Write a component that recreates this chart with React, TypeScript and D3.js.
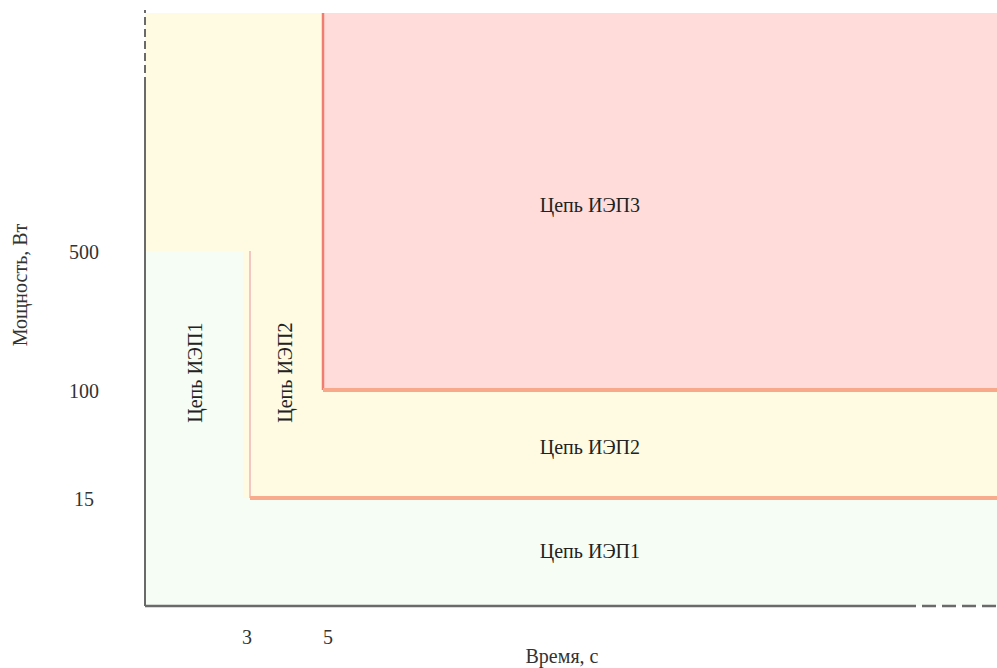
import React, { useEffect, useRef } from 'react';
import * as d3 from 'd3';

// time breakpoints (s) and power breakpoints (W) of the schematic
const timeDomain = [0, 3, 5, 30];
const powerDomain = [0, 15, 100, 500, 1000];
const timeTicks = [3, 5];
const powerTicks = [15, 100, 500];

// zones: [t0, t1, p0, p1]
const zoneIEP2 = [0, 30, 0, 1000];
const zoneIEP3 = [5, 30, 100, 1000];
const zoneIEP1a = [0, 3, 0, 500];
const zoneIEP1b = [0, 30, 0, 15];

const zoneLabels = [
  { text: 'Цепь ИЭП3', t: 14.9, p: 597, rotate: false },
  { text: 'Цепь ИЭП2', t: 14.9, p: 55, rotate: false },
  { text: 'Цепь ИЭП1', t: 14.9, p: 7.6, rotate: false },
  { text: 'Цепь ИЭП1', t: 1.43, p: 150, rotate: true },
  { text: 'Цепь ИЭП2', t: 3.96, p: 150, rotate: true },
];

const width = 997;
const height = 668;

export default function App() {
  const svgRef = useRef<SVGSVGElement>(null);

  useEffect(() => {
    if (!svgRef.current) return;
    const svg = d3.select(svgRef.current);
    svg.selectAll('*').remove();

    const x = d3.scaleLinear().domain(timeDomain).range([145, 250, 323, 997]);
    const y = d3.scaleLinear().domain(powerDomain).range([606, 498, 390, 251, 13]);

    const rect = (z: number[], fill: string, inset = 0) =>
      svg.append('rect')
        .attr('x', x(z[0]))
        .attr('y', y(z[3]))
        .attr('width', x(z[1]) - x(z[0]) - inset)
        .attr('height', y(z[2]) - y(z[3]))
        .attr('fill', fill);

    rect(zoneIEP2, '#fffbe2');
    rect(zoneIEP3, '#ffdcd9');
    rect(zoneIEP1a, '#f6fdf4', 7);
    rect(zoneIEP1b, '#f6fdf4');

    // boundary lines
    svg.append('line')
      .attr('x1', x(3)).attr('x2', x(3))
      .attr('y1', y(500)).attr('y2', y(15))
      .attr('stroke', '#f3c6c2').attr('stroke-width', 2);
    svg.append('line')
      .attr('x1', x(3)).attr('x2', x(30))
      .attr('y1', y(15)).attr('y2', y(15))
      .attr('stroke', '#f9ab8e').attr('stroke-width', 4);
    svg.append('line')
      .attr('x1', x(5)).attr('x2', x(5))
      .attr('y1', y(1000)).attr('y2', y(100))
      .attr('stroke', '#ef7d72').attr('stroke-width', 2.5);
    svg.append('line')
      .attr('x1', x(5)).attr('x2', x(30))
      .attr('y1', y(100)).attr('y2', y(100))
      .attr('stroke', '#f9a98b').attr('stroke-width', 4);

    // axes
    const axisColor = '#6a6a6a';
    svg.append('line')
      .attr('x1', x(0)).attr('x2', x(0))
      .attr('y1', y(0)).attr('y2', 85)
      .attr('stroke', axisColor).attr('stroke-width', 2);
    svg.append('line')
      .attr('x1', x(0)).attr('x2', x(0))
      .attr('y1', 85).attr('y2', 10)
      .attr('stroke', axisColor).attr('stroke-width', 2)
      .attr('stroke-dasharray', '8,4');
    svg.append('line')
      .attr('x1', x(0)).attr('x2', 902)
      .attr('y1', y(0)).attr('y2', y(0))
      .attr('stroke', axisColor).attr('stroke-width', 2.5);
    svg.append('line')
      .attr('x1', 902).attr('x2', x(30))
      .attr('y1', y(0)).attr('y2', y(0))
      .attr('stroke', axisColor).attr('stroke-width', 2.5)
      .attr('stroke-dasharray', '14,6');

    const font = '"Liberation Serif", "DejaVu Serif", serif';
    const textColor = '#333';
    const fontSize = 20;

    svg.append('g')
      .selectAll('text')
      .data(powerTicks)
      .join('text')
      .attr('x', 84)
      .attr('y', d => y(d) + 1)
      .attr('dy', '0.35em')
      .attr('text-anchor', 'middle')
      .attr('font-family', font)
      .attr('font-size', fontSize)
      .attr('fill', textColor)
      .text(d => d);

    svg.append('g')
      .selectAll('text')
      .data(timeTicks)
      .join('text')
      .attr('x', d => x(d) + (d === 5 ? 5 : -3))
      .attr('y', 637)
      .attr('dy', '0.35em')
      .attr('text-anchor', 'middle')
      .attr('font-family', font)
      .attr('font-size', fontSize)
      .attr('fill', textColor)
      .text(d => d);

    svg.append('text')
      .attr('x', 562)
      .attr('y', 656)
      .attr('dy', '0.35em')
      .attr('text-anchor', 'middle')
      .attr('font-family', font)
      .attr('font-size', fontSize)
      .attr('fill', textColor)
      .text('Время, с');

    svg.append('text')
      .attr('transform', 'translate(20,285) rotate(-90)')
      .attr('dy', '0.35em')
      .attr('text-anchor', 'middle')
      .attr('font-family', font)
      .attr('font-size', fontSize)
      .attr('fill', textColor)
      .text('Мощность, Вт');

    svg.append('g')
      .selectAll('text')
      .data(zoneLabels)
      .join('text')
      .attr('transform', d =>
        `translate(${x(d.t)},${y(d.p)})` + (d.rotate ? ' rotate(-90)' : ''))
      .attr('dy', '0.35em')
      .attr('text-anchor', 'middle')
      .attr('font-family', font)
      .attr('font-size', fontSize)
      .attr('fill', '#222')
      .text(d => d.text);
  }, []);

  return (
    <svg
      ref={svgRef}
      width={width}
      height={height}
      style={{ position: 'absolute', left: 0, top: 0, background: '#fff' }}
    />
  );
}
